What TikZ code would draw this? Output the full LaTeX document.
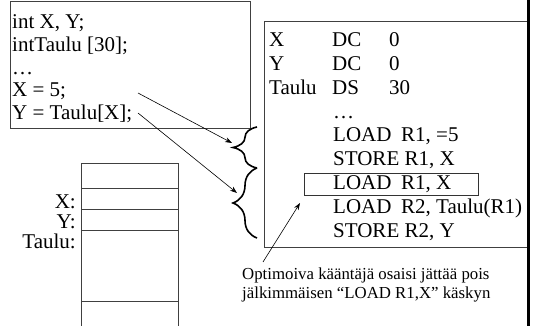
\documentclass[tikz,border=0pt]{standalone}
\usepackage{fontspec}
\setmainfont{Liberation Serif}
\usetikzlibrary{arrows.meta, positioning, decorations.pathreplacing}
\tikzset{
	codetxt/.style={anchor=base west, inner sep=0pt, font=\fontsize{21}{23}\selectfont},
	memlbl/.style={anchor=base east, inner sep=0pt, font=\fontsize{21}{23}\selectfont},
	notetxt/.style={anchor=base west, inner sep=0pt, font=\fontsize{16.8}{19}\selectfont},
	boxline/.style={draw=black!75, line width=0.8pt},
	ptrarr/.style={-{Stealth[length=7pt, width=5pt]}, line width=0.6pt},
	brace/.style={decorate, decoration={brace, amplitude=24pt}, line width=1.6pt},
}
\newcommand{\colA}[1]{\makebox[63pt][l]{#1}}
\newcommand{\colB}[1]{\makebox[57pt][l]{#1}}

\begin{document}
\begin{tikzpicture}[x=1pt, y=-1pt]
	\useasboundingbox (0,0) rectangle (533,326);
	% C-koodi
	\draw[boxline] (10,1) rectangle (250,128);
	\node[codetxt] (c1) at (12,29) {int X, Y;};
	\node[codetxt] (c2) at (12,52) {intTaulu [30];};
	\node[codetxt] (c3) at (12,75) {…};
	\node[codetxt] (c4) at (12,97) {X = 5;};
	\node[codetxt] (c5) at (12,120) {Y = Taulu[X];};
	% konekielinen koodi
	\draw[boxline] (264,21) rectangle (528,247);
	\node[codetxt] (a1) at (269,47) {\colA{X}\colB{DC}0};
	\node[codetxt] (a2) at (269,70.75) {\colA{Y}\colB{DC}0};
	\node[codetxt] (a3) at (269,94.5) {\colA{Taulu}\colB{DS}30};
	\node[codetxt] (a4) at (333,118.25) {…};
	\node[codetxt] (a5) at (333,142) {\makebox[68pt][l]{LOAD}R1, =5};
	\node[codetxt] (a6) at (333,165.75) {STORE R1, X};
	\node[codetxt] (a7) at (333,189.5) {\makebox[68pt][l]{LOAD}R1, X};
	\node[codetxt] (a8) at (333,213.25) {\makebox[68pt][l]{LOAD}R2, Taulu(R1)};
	\node[codetxt] (a9) at (333,237) {STORE R2, Y};
	\node[draw=black!80, line width=0.8pt, anchor=north west, inner sep=0pt,
		minimum width=174pt, minimum height=21pt] (hl) at (304,173.5) {};
	\draw[line width=3pt] (528.5,0) -- (528.5,326);
	% aaltosulkeet
	\draw[brace] (257,168) -- (257,127);
	\draw[brace] (257,238) -- (257,168);
	\coordinate (t1) at (232,143);
	\coordinate (t2) at (237,193);
	\coordinate (s1) at (138,93);
	\coordinate (s2) at (138,113);
	\draw[ptrarr] (s1) -- (t1);
	\draw[ptrarr] (s2) -- (t2);
	% muisti
	\draw[boxline] (81,326) -- (81,163) -- (178,163) -- (178,326);
	\foreach \y in {188,209,230,301}
		\draw[boxline] (81,\y) -- (178,\y);
	\node[memlbl] (mx) at (76,208) {X:};
	\node[memlbl] (my) at (76,228) {Y:};
	\node[memlbl] (mt) at (76,248) {Taulu:};
	% huomautus
	\node[notetxt] (n1) at (242,279) {Optimoiva kääntäjä osaisi jättää pois};
	\node[notetxt] (n2) at (242,298) {jälkimmäisen “LOAD R1,X” käskyn};
	\coordinate (n0) at (263,262);
	\coordinate (t3) at (300,203);
	\draw[ptrarr] (n0) -- (t3);
\end{tikzpicture}
\end{document}
